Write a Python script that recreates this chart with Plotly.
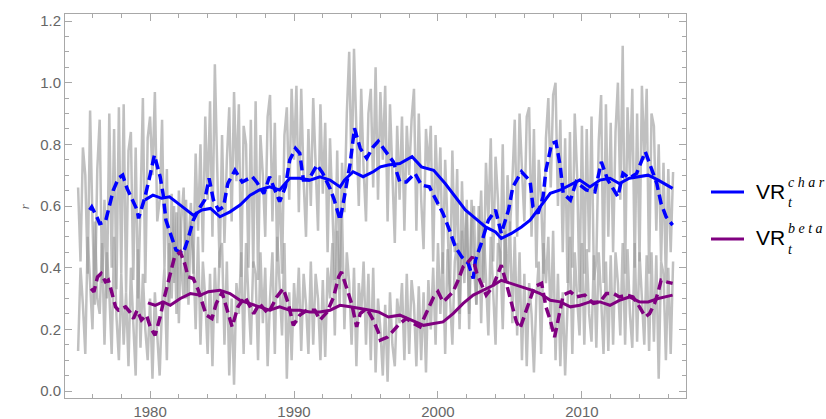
import plotly.graph_objects as go

# ---------------- data ----------------
raw_start = 1975.0
raw_step = 1 / 6  # bimonthly readings
char_raw = [
    0.66, 0.42, 0.79, 0.70, 0.38, 0.91,
    0.55, 0.28, 0.72, 0.88, 0.35, 0.62,
    0.30, 0.90, 0.40, 0.85, 0.33, 0.92,
    0.38, 0.93, 0.32, 0.78, 0.84, 0.36,
    0.79, 0.30, 0.60, 0.95, 0.35, 0.82,
    0.89, 0.70, 0.97, 0.55, 0.62, 0.88,
    0.40, 0.72, 0.28, 0.64, 0.35, 0.58,
    0.22, 0.55, 0.66, 0.30, 0.48, 0.61,
    0.38, 0.77, 0.52, 0.80, 0.45, 0.89,
    0.62, 0.94, 0.50, 1.06, 0.72, 0.40,
    0.83, 0.48, 0.75, 0.92, 0.55, 0.97,
    0.68, 0.93, 0.37, 0.86, 0.80, 0.40,
    0.88, 0.40, 0.94, 0.36, 0.83, 0.70,
    0.50, 0.89, 0.96, 0.55, 0.87, 0.42,
    0.70, 0.38, 0.83, 0.92, 0.62, 0.98,
    0.75, 0.99, 0.58, 0.98, 0.68, 0.50,
    0.85, 0.60, 0.95, 0.72, 0.52, 0.93,
    0.64, 0.87, 0.45, 0.82, 0.55, 0.36,
    0.78, 0.33, 0.74, 0.58, 0.90, 1.10,
    0.70, 1.11, 0.85, 0.60, 0.98, 0.72,
    0.55, 0.90, 0.98, 0.66, 1.05, 0.62,
    0.97, 0.75, 0.99, 0.55, 0.93, 0.70,
    0.48, 0.86, 0.62, 0.89, 0.52, 0.86,
    0.70, 0.88, 0.98, 0.52, 0.90, 0.62,
    0.46, 0.85, 0.72, 0.86, 0.42, 0.83,
    0.60, 0.79, 0.38, 0.75, 0.55, 0.32,
    0.78, 0.45, 0.72, 0.25, 0.68, 0.40,
    0.62, 0.20, 0.55, 0.60, 0.28, 0.48,
    0.65, 0.35, 0.74, 0.55, 0.82, 0.42,
    0.76, 0.62, 0.40, 0.80, 0.35, 0.70,
    0.52, 0.68, 0.88, 0.50, 0.90, 0.72,
    0.55, 0.89, 0.92, 0.50, 0.85, 0.40,
    0.75, 0.62, 0.38, 0.82, 0.95, 0.66,
    0.96, 1.00, 0.60, 0.88, 0.45, 0.82,
    0.35, 0.84, 0.40, 0.90, 0.70, 0.32,
    0.86, 0.38, 0.85, 0.45, 0.89, 0.36,
    0.42, 0.81, 0.96, 0.35, 0.93, 0.50,
    0.87, 0.45, 0.84, 1.00, 0.62, 1.12,
    0.38, 0.92, 0.70, 0.98, 0.40, 0.90,
    0.42, 0.99, 0.75, 0.98, 0.38, 0.90,
    0.86, 0.52, 0.80, 0.42, 0.74, 0.35,
    0.72, 0.45, 0.71,
]
beta_raw = [
    0.13, 0.40, 0.28, 0.12, 0.50, 0.36,
    0.20, 0.55, 0.30, 0.25, 0.48, 0.15,
    0.45, 0.32, 0.12, 0.50, 0.24, 0.10,
    0.38, 0.15, 0.32, 0.08, 0.40, 0.22,
    0.05, 0.46, 0.14, 0.38, 0.20, 0.10,
    0.30, 0.04, 0.32, 0.18, 0.05, 0.28,
    0.40, 0.10, 0.48, 0.30, 0.60, 0.25,
    0.65, 0.40, 0.30, 0.62, 0.28, 0.55,
    0.45, 0.20, 0.50, 0.15, 0.42, 0.30,
    0.12, 0.38, 0.08, 0.40, 0.22, 0.45,
    0.48, 0.15, 0.42, 0.05, 0.30, 0.02,
    0.35, 0.25, 0.45, 0.12, 0.48, 0.30,
    0.15, 0.42, 0.38, 0.10, 0.45, 0.22,
    0.40, 0.08, 0.30, 0.45, 0.12, 0.50,
    0.35, 0.18, 0.48, 0.04, 0.32, 0.10,
    0.35, 0.22, 0.40, 0.13, 0.38, 0.28,
    0.12, 0.42, 0.15, 0.38, 0.30, 0.10,
    0.36, 0.11, 0.40, 0.30, 0.48, 0.18,
    0.52, 0.28, 0.58, 0.20, 0.45, 0.35,
    0.15, 0.40, 0.08, 0.35, 0.25, 0.42,
    0.15, 0.38, 0.10, 0.40, 0.06, 0.30,
    0.20, 0.05, 0.28, 0.03, 0.32, 0.15,
    0.08, 0.30, 0.22, 0.35, 0.10, 0.38,
    0.12, 0.36, 0.28, 0.08, 0.34, 0.10,
    0.32, 0.06, 0.36, 0.20, 0.40, 0.15,
    0.48, 0.25, 0.45, 0.12, 0.46, 0.30,
    0.15, 0.42, 0.48, 0.20, 0.52, 0.35,
    0.58, 0.25, 0.62, 0.40, 0.28, 0.60,
    0.22, 0.55, 0.35, 0.18, 0.50, 0.30,
    0.15, 0.48, 0.45, 0.20, 0.52, 0.35,
    0.55, 0.22, 0.50, 0.18, 0.45, 0.10,
    0.38, 0.08, 0.35, 0.25, 0.06, 0.30,
    0.42, 0.12, 0.48, 0.35, 0.50, 0.20,
    0.52, 0.10, 0.38, 0.08, 0.32, 0.05,
    0.28, 0.50, 0.12, 0.45, 0.30, 0.18,
    0.48, 0.15, 0.46, 0.25, 0.16, 0.44,
    0.14, 0.45, 0.30, 0.12, 0.42, 0.13,
    0.44, 0.15, 0.45, 0.35, 0.18, 0.48,
    0.15, 0.46, 0.25, 0.14, 0.48, 0.16,
    0.45, 0.30, 0.15, 0.44, 0.13, 0.45,
    0.16, 0.44, 0.04, 0.42, 0.38, 0.10,
    0.40, 0.12, 0.42,
]

char_ma12_x = [1975.8, 1975.95, 1976.3, 1976.5, 1976.9, 1977.1, 1977.45, 1977.8, 1978.1, 1978.4,
               1978.7, 1979.1, 1979.2, 1979.65, 1980.0, 1980.3, 1980.7, 1980.9, 1981.1, 1981.5,
               1981.8, 1982.3, 1982.65, 1983.0, 1983.35, 1983.8, 1984.1, 1984.4, 1984.75, 1985.1,
               1985.4, 1985.9, 1986.4, 1987.1, 1987.4, 1987.9, 1988.3, 1989.0, 1989.4, 1989.7,
               1990.1, 1990.4, 1990.65, 1991.0, 1991.6, 1992.0, 1992.5, 1992.8, 1993.2, 1993.5,
               1993.9, 1994.2, 1994.6, 1995.05, 1995.5, 1995.85, 1996.4, 1996.9, 1997.35, 1997.8,
               1998.4, 1998.85, 1999.4, 1999.9, 2000.35, 2000.8, 2001.2, 2001.65, 2002.1, 2002.45,
               2002.6, 2003.0, 2003.5, 2004.0, 2004.4, 2004.9, 2005.2, 2005.8, 2006.4, 2006.6,
               2006.95, 2007.3, 2007.5, 2007.9, 2008.2, 2008.5, 2008.7, 2009.2, 2009.6, 2010.3,
               2010.9, 2011.35, 2011.8, 2012.3, 2012.5, 2012.85, 2013.3, 2013.8, 2014.4, 2014.7,
               2015.2, 2015.5, 2015.85, 2016.3]
char_ma12_y = [0.587, 0.597, 0.565, 0.543, 0.549, 0.587, 0.652, 0.69, 0.70, 0.657,
               0.625, 0.587, 0.56, 0.63, 0.70, 0.765, 0.695, 0.64, 0.554, 0.50,
               0.457, 0.446, 0.495, 0.554, 0.587, 0.62, 0.69, 0.62, 0.587, 0.597,
               0.673, 0.716, 0.678, 0.695, 0.678, 0.64, 0.695, 0.614, 0.662, 0.749,
               0.787, 0.771, 0.684, 0.684, 0.733, 0.706, 0.657, 0.619, 0.554, 0.63,
               0.738, 0.852, 0.787, 0.755, 0.792, 0.81, 0.776, 0.743, 0.678, 0.678,
               0.706, 0.668, 0.662, 0.614, 0.576, 0.522, 0.468, 0.435, 0.414, 0.365,
               0.424, 0.478, 0.554, 0.587, 0.511, 0.587, 0.662, 0.711, 0.681, 0.597,
               0.576, 0.63, 0.716, 0.803, 0.808, 0.727, 0.641, 0.619, 0.678, 0.652,
               0.646, 0.743, 0.684, 0.646, 0.63, 0.706, 0.69, 0.706, 0.776, 0.738,
               0.673, 0.608, 0.565, 0.538]

char_ma60_x = [1979.65, 1980.2, 1980.8, 1981.35, 1982.1, 1983.0, 1983.6, 1984.2, 1984.85, 1985.55,
               1986.25, 1986.95, 1987.6, 1988.3, 1989.0, 1989.7, 1990.4, 1991.1, 1991.8, 1992.5,
               1993.2, 1993.5, 1994.1, 1994.8, 1995.5, 1996.0, 1996.55, 1997.35, 1998.2, 1998.85,
               1999.7, 2000.5, 2001.2, 2001.9, 2002.6, 2003.3, 2004.0, 2004.4, 2005.1, 2005.8,
               2006.4, 2007.1, 2007.8, 2008.5, 2009.2, 2009.85, 2010.55, 2011.25, 2011.95, 2012.6,
               2013.3, 2014.0, 2014.6, 2015.3, 2015.85, 2016.3]
char_ma60_y = [0.62, 0.635, 0.625, 0.63, 0.603, 0.57, 0.587, 0.592, 0.565, 0.581,
               0.603, 0.635, 0.652, 0.662, 0.652, 0.69, 0.69, 0.684, 0.695, 0.684,
               0.662, 0.684, 0.711, 0.695, 0.711, 0.727, 0.733, 0.738, 0.76, 0.727,
               0.716, 0.673, 0.63, 0.587, 0.56, 0.532, 0.516, 0.495, 0.511, 0.532,
               0.554, 0.597, 0.641, 0.652, 0.668, 0.684, 0.662, 0.684, 0.69, 0.673,
               0.69, 0.695, 0.70, 0.684, 0.668, 0.657]

beta_ma12_x = [1975.9, 1976.1, 1976.35, 1976.6, 1976.9, 1977.1, 1977.3, 1977.6, 1977.8, 1978.3,
               1978.6, 1978.85, 1979.1, 1979.4, 1979.75, 1980.05, 1980.35, 1980.7, 1981.0, 1981.4,
               1981.7, 1982.1, 1982.4, 1982.65, 1983.0, 1983.35, 1983.7, 1983.9, 1984.3, 1984.6,
               1985.0, 1985.2, 1985.7, 1986.1, 1986.6, 1987.2, 1987.6, 1988.2, 1988.8, 1989.25,
               1989.6, 1989.95, 1990.4, 1990.9, 1991.45, 1991.8, 1992.3, 1992.75, 1993.1, 1993.3,
               1993.65, 1994.0, 1994.35, 1994.6, 1995.05, 1995.5, 1995.85, 1996.0, 1996.5, 1997.0,
               1997.35, 1997.8, 1998.3, 1998.75, 1999.3, 1999.7, 2000.0, 2000.35, 2000.7, 2001.05,
               2001.4, 2001.75, 2002.1, 2002.4, 2002.7, 2003.0, 2003.35, 2003.8, 2004.2, 2004.4,
               2004.75, 2005.1, 2005.45, 2005.7, 2006.15, 2006.5, 2006.7, 2007.2, 2007.5, 2007.8,
               2008.1, 2008.25, 2008.5, 2008.7, 2009.2, 2009.6, 2010.2, 2010.8, 2011.25, 2011.7,
               2012.2, 2012.6, 2013.1, 2013.55, 2014.0, 2014.4, 2014.7, 2015.05, 2015.3, 2015.5,
               2015.85, 2016.3]
beta_ma12_y = [0.332, 0.322, 0.37, 0.381, 0.354, 0.36, 0.327, 0.273, 0.262, 0.273,
               0.256, 0.235, 0.262, 0.23, 0.246, 0.203, 0.181, 0.24, 0.305, 0.381,
               0.435, 0.451, 0.414, 0.37, 0.365, 0.327, 0.273, 0.246, 0.235, 0.284,
               0.32, 0.29, 0.208, 0.273, 0.305, 0.251, 0.284, 0.251, 0.305, 0.332,
               0.284, 0.213, 0.246, 0.262, 0.262, 0.23, 0.256, 0.305, 0.37, 0.386,
               0.338, 0.284, 0.208, 0.251, 0.268, 0.23, 0.192, 0.165, 0.175, 0.203,
               0.219, 0.235, 0.219, 0.208, 0.262, 0.305, 0.322, 0.289, 0.305, 0.322,
               0.359, 0.403, 0.419, 0.435, 0.381, 0.349, 0.311, 0.338, 0.381, 0.408,
               0.349, 0.284, 0.224, 0.203, 0.262, 0.305, 0.338, 0.349, 0.273, 0.23,
               0.175, 0.208, 0.273, 0.311, 0.322, 0.305, 0.311, 0.284, 0.289, 0.316,
               0.316, 0.305, 0.311, 0.305, 0.273, 0.24, 0.251, 0.284, 0.322, 0.359,
               0.354, 0.349]

beta_ma60_x = [1979.85, 1980.35, 1980.9, 1981.4, 1982.1, 1982.8, 1983.5, 1984.05, 1984.85, 1985.55,
               1986.25, 1986.95, 1987.6, 1988.3, 1989.0, 1989.7, 1990.4, 1991.1, 1991.8, 1992.5,
               1993.2, 1993.9, 1994.6, 1995.3, 1995.9, 1996.55, 1997.35, 1998.2, 1999.0, 1999.7,
               2000.35, 2001.05, 2001.75, 2002.45, 2003.15, 2003.85, 2004.4, 2005.1, 2005.8, 2006.5,
               2007.1, 2007.8, 2008.5, 2009.2, 2009.85, 2010.55, 2011.25, 2011.95, 2012.6, 2013.3,
               2014.0, 2014.6, 2015.3, 2015.85, 2016.3]
beta_ma60_y = [0.286, 0.278, 0.289, 0.278, 0.30, 0.316, 0.311, 0.322, 0.327, 0.316,
               0.294, 0.284, 0.273, 0.262, 0.273, 0.262, 0.262, 0.256, 0.256, 0.262,
               0.278, 0.273, 0.268, 0.262, 0.256, 0.24, 0.246, 0.23, 0.213, 0.219,
               0.224, 0.251, 0.284, 0.311, 0.327, 0.343, 0.359, 0.349, 0.338, 0.327,
               0.316, 0.294, 0.289, 0.273, 0.278, 0.289, 0.289, 0.278, 0.294, 0.305,
               0.289, 0.289, 0.30, 0.305, 0.311]

x_tick_vals = [1980, 1990, 2000, 2010]
y_tick_vals = [0.0, 0.2, 0.4, 0.6, 0.8, 1.0, 1.2]
y_tick_text = ["0.0", "0.2", "0.4", "0.6", "0.8", "1.0", "1.2"]

# ---------------- figure ----------------
raw_x = [raw_start + i * raw_step for i in range(len(char_raw))]
gray = "rgba(150,150,150,0.6)"
BLUE = "#0000ff"
PURPLE = "#800080"

fig = go.Figure()
fig.add_trace(go.Scatter(x=raw_x, y=char_raw, mode="lines",
                         line=dict(color=gray, width=2.5), showlegend=False, hoverinfo="skip"))
fig.add_trace(go.Scatter(x=raw_x[:len(beta_raw)], y=beta_raw, mode="lines",
                         line=dict(color=gray, width=2.5), showlegend=False, hoverinfo="skip"))
fig.add_trace(go.Scatter(x=char_ma12_x, y=char_ma12_y, mode="lines",
                         line=dict(color=BLUE, width=3.5, dash="10px,5px"), showlegend=False))
fig.add_trace(go.Scatter(x=beta_ma12_x, y=beta_ma12_y, mode="lines",
                         line=dict(color=PURPLE, width=3.5, dash="10px,5px"), showlegend=False))
fig.add_trace(go.Scatter(x=char_ma60_x, y=char_ma60_y, mode="lines",
                         line=dict(color=BLUE, width=3), showlegend=False))
fig.add_trace(go.Scatter(x=beta_ma60_x, y=beta_ma60_y, mode="lines",
                         line=dict(color=PURPLE, width=3), showlegend=False))

axis_col = "#a8a8a8"
text_col = "#666666"
common = dict(showgrid=False, zeroline=False, showline=True, linecolor=axis_col, linewidth=1,
              mirror="allticks", ticks="inside", tickcolor=axis_col, ticklen=7, tickwidth=1,
              tickfont=dict(family="Liberation Sans, Arial, sans-serif", size=15, color=text_col))
fig.update_xaxes(range=[1974.09, 2017.23], tickvals=x_tick_vals,
                 minor=dict(dtick=2, tick0=1974, ticks="inside", ticklen=4, tickcolor=axis_col),
                 **common)
fig.update_yaxes(range=[-0.0227, 1.2227], tickvals=y_tick_vals, ticktext=y_tick_text,
                 minor=dict(dtick=0.05, tick0=0, ticks="inside", ticklen=4, tickcolor=axis_col),
                 **common)

# y axis label
annotations = [dict(xref="paper", yref="paper", x=-0.081, y=0.5, text="<i>r</i>", showarrow=False,
                    textangle=-90, font=dict(family="Liberation Serif, serif", size=13, color=text_col))]
shapes = []
legend_items = [("c h a r", BLUE, 192), ("b e t a", PURPLE, 239)]
W, H = 826, 419
for sup, col, ypix in legend_items:
    shapes.append(dict(type="line", xref="paper", yref="paper", line=dict(color=col, width=3),
                       x0=(711 - 65) / 621, x1=(744 - 65) / 621,
                       y0=(398 - ypix) / 384, y1=(398 - ypix) / 384))
    annotations.append(dict(xref="paper", yref="paper", x=(754 - 65) / 621, y=(398 - ypix + 1) / 384,
                            xanchor="left", yanchor="middle", text="VR", showarrow=False,
                            font=dict(family="Liberation Sans, Arial, sans-serif", size=21, color="#000")))
    annotations.append(dict(xref="paper", yref="paper", x=(786 - 65) / 621, y=(398 - ypix - 10) / 384,
                            xanchor="left", yanchor="middle", text="<i>t</i>", showarrow=False,
                            font=dict(family="Liberation Serif, serif", size=14, color="#000")))
    annotations.append(dict(xref="paper", yref="paper", x=(786 - 65) / 621, y=(398 - ypix + 10) / 384,
                            xanchor="left", yanchor="middle", text="<i>" + sup + "</i>", showarrow=False,
                            font=dict(family="Liberation Serif, serif", size=14, color="#000")))

fig.update_layout(width=W, height=H, margin=dict(l=65, r=140, t=14, b=21, autoexpand=False),
                  plot_bgcolor="white", paper_bgcolor="white", showlegend=False,
                  annotations=annotations, shapes=shapes)
fig.write_html("out.html")
